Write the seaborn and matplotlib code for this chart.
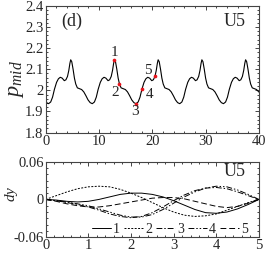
import numpy as np
import seaborn as sns
import matplotlib.pyplot as plt
from matplotlib.ticker import MultipleLocator, FormatStrFormatter

sns.set_style("ticks")
plt.rcParams['font.family'] = ['Liberation Serif', 'DejaVu Serif']
plt.rcParams['mathtext.fontset'] = 'custom'
plt.rcParams['mathtext.rm'] = 'Liberation Serif'
plt.rcParams['mathtext.it'] = 'Liberation Serif:italic'
plt.rcParams['axes.unicode_minus'] = False

# top panel: p_mid vs time
t_mid = [0.0, 0.3,
         0.55, 0.95, 1.3, 1.65, 2.05, 2.4, 2.75, 3.1, 3.5, 3.8, 4.1, 4.35, 4.55, 4.7, 4.9, 5.15, 5.4, 5.65, 5.95, 6.35, 6.75, 7.15, 7.55, 7.95, 8.35,
         8.75, 9.15, 9.5, 9.85, 10.25, 10.6, 10.95, 11.3, 11.7, 12.0, 12.3, 12.55, 12.75, 12.9, 13.1, 13.35, 13.6, 13.85, 14.15, 14.55, 14.95, 15.35, 15.75, 16.15, 16.55,
         16.95, 17.35, 17.7, 18.05, 18.45, 18.8, 19.15, 19.5, 19.9, 20.2, 20.5, 20.75, 20.95, 21.1, 21.3, 21.55, 21.8, 22.05, 22.35, 22.75, 23.15, 23.55, 23.95, 24.35, 24.75,
         25.15, 25.55, 25.9, 26.25, 26.65, 27.0, 27.35, 27.7, 28.1, 28.4, 28.7, 28.95, 29.15, 29.3, 29.5, 29.75, 30.0, 30.25, 30.55, 30.95, 31.35, 31.75, 32.15, 32.55, 32.95,
         33.35, 33.75, 34.1, 34.45, 34.85, 35.2, 35.55, 35.9, 36.3, 36.6, 36.9, 37.15, 37.35, 37.5, 37.7, 37.95, 38.2, 38.45, 38.75, 39.15, 39.55, 40.0]
p_mid = [1.947, 1.940,
         1.937, 1.945, 1.968, 2.005, 2.038, 2.055, 2.062, 2.058, 2.046, 2.050, 2.066, 2.095, 2.128, 2.145, 2.136, 2.100, 2.058, 2.030, 2.012, 2.008, 2.004, 1.993, 1.975, 1.955, 1.942,
         1.937, 1.945, 1.968, 2.005, 2.038, 2.055, 2.062, 2.058, 2.046, 2.050, 2.066, 2.095, 2.128, 2.145, 2.136, 2.100, 2.058, 2.030, 2.012, 2.008, 2.004, 1.993, 1.975, 1.955, 1.942,
         1.937, 1.945, 1.968, 2.005, 2.038, 2.055, 2.062, 2.058, 2.046, 2.050, 2.066, 2.095, 2.128, 2.145, 2.136, 2.100, 2.058, 2.030, 2.012, 2.008, 2.004, 1.993, 1.975, 1.955, 1.942,
         1.937, 1.945, 1.968, 2.005, 2.038, 2.055, 2.062, 2.058, 2.046, 2.050, 2.066, 2.095, 2.128, 2.145, 2.136, 2.100, 2.058, 2.030, 2.012, 2.008, 2.004, 1.993, 1.975, 1.955, 1.942,
         1.937, 1.945, 1.968, 2.005, 2.038, 2.055, 2.062, 2.058, 2.046, 2.050, 2.066, 2.095, 2.128, 2.145, 2.136, 2.100, 2.058, 2.030, 2.012, 2.008, 2.004, 1.992]

# marked snapshots
pt_t = [12.9, 13.85, 16.95, 18.05, 20.5]
pt_p = [2.145, 2.030, 1.937, 2.005, 2.066]
pt_labels = ["1", "2", "3", "4", "5"]
lab_t = [12.9, 13.0, 16.75, 19.4, 19.1]
lab_p = [2.18, 1.99, 1.90, 1.98, 2.095]

# bottom panel: dy profiles
xs = [0.0, 0.25, 0.5, 0.75, 1.0, 1.25, 1.5, 1.75, 2.0, 2.25, 2.5,
      2.75, 3.0, 3.25, 3.5, 3.75, 4.0, 4.25, 4.5, 4.75, 5.0]
dy1 = [0, -0.001, -0.003, -0.004, -0.003, 0.000, 0.004, 0.008, 0.010, 0.010, 0.008,
       0.004, -0.002, -0.009, -0.016, -0.021, -0.022, -0.020, -0.015, -0.008, 0]
dy2 = [0, 0.006, 0.012, 0.017, 0.020, 0.021, 0.020, 0.016, 0.010, 0.003, -0.005,
       -0.013, -0.020, -0.025, -0.027, -0.026, -0.023, -0.017, -0.011, -0.005, 0]
dy3 = [0, -0.002, -0.005, -0.008, -0.012, -0.017, -0.023, -0.027, -0.029, -0.027, -0.021,
       -0.012, -0.002, 0.007, 0.014, 0.018, 0.019, 0.017, 0.012, 0.006, 0]
dy4 = [0, -0.002, -0.004, -0.007, -0.010, -0.015, -0.020, -0.025, -0.028, -0.028, -0.024,
       -0.016, -0.006, 0.004, 0.012, 0.018, 0.021, 0.020, 0.015, 0.008, 0]
dy5 = [0, -0.003, -0.007, -0.010, -0.012, -0.012, -0.010, -0.007, -0.004, -0.001, 0.002,
       0.003, 0.003, 0.001, -0.003, -0.007, -0.011, -0.013, -0.011, -0.006, 0]
dy_names = ["1", "2", "3", "4", "5"]
dy_styles = ['-', (0, (2, 1.5)), (0, (6, 2, 1.5, 2)), (0, (6, 2, 1.5, 2, 1.5, 2)), (0, (6, 3))]

fig = plt.figure(figsize=(2.7, 2.57), dpi=100)
ax1 = fig.add_axes([0.169, 0.484, 0.790, 0.493])
ax2 = fig.add_axes([0.169, 0.077, 0.790, 0.294])

sns.lineplot(x=t_mid, y=p_mid, ax=ax1, color='black', linewidth=0.8)
sns.scatterplot(x=pt_t, y=pt_p, ax=ax1, color='#e8131b', s=7, linewidth=0, zorder=3)
for lab, x, y in zip(pt_labels, lab_t, lab_p):
    ax1.text(x, y, lab, ha='center', va='center', fontsize=11)
ax1.text(4.9, 2.325, "(d)", ha='center', va='center', fontsize=13)
ax1.text(35.5, 2.325, "U5", ha='center', va='center', fontsize=13)
ax1.set_xlim(0, 40)
ax1.set_ylim(1.8, 2.4)
ax1.xaxis.set_major_locator(MultipleLocator(10))
ax1.xaxis.set_minor_locator(MultipleLocator(2))
ax1.yaxis.set_major_locator(MultipleLocator(0.1))
ax1.yaxis.set_minor_locator(MultipleLocator(0.02))
ax1.yaxis.set_major_formatter(FormatStrFormatter('%g'))
ax1.set_ylabel(r"$p_{mid}$", fontsize=16)
ax1.yaxis.set_label_coords(-0.09, 0.42)

for d, name, ls in zip([dy1, dy2, dy3, dy4, dy5], dy_names, dy_styles):
    sns.lineplot(x=xs, y=d, ax=ax2, color='black', linewidth=0.7, linestyle=ls, label=name)
ax2.text(4.44, 0.044, "U5", ha='center', va='center', fontsize=13)
ax2.set_xlim(0, 5)
ax2.set_ylim(-0.06, 0.06)
ax2.xaxis.set_major_locator(MultipleLocator(1))
ax2.xaxis.set_minor_locator(MultipleLocator(0.2))
ax2.yaxis.set_major_locator(MultipleLocator(0.06))
ax2.yaxis.set_minor_locator(MultipleLocator(0.01))
ax2.yaxis.set_major_formatter(FormatStrFormatter('%g'))
ax2.set_ylabel(r"$dy$", fontsize=11)
ax2.yaxis.set_label_coords(-0.12, 0.58)
ax2.legend(ncol=5, loc='center right', bbox_to_anchor=(0.955, 0.1), frameon=False,
           fontsize=10, handlelength=1.4, handletextpad=0.15, columnspacing=0.25,
           borderaxespad=0, borderpad=0.1)

for ax in (ax1, ax2):
    ax.tick_params(which='both', direction='in', top=True, right=True, labelsize=10.5,
                   width=0.6, pad=1.5)
    ax.tick_params(which='major', length=3)
    ax.tick_params(which='minor', length=1.5)
    ax.set_xlabel("")
    for s in ax.spines.values():
        s.set_linewidth(0.8)
        s.set_color('#444444')

fig.savefig("out.png", dpi=100)
